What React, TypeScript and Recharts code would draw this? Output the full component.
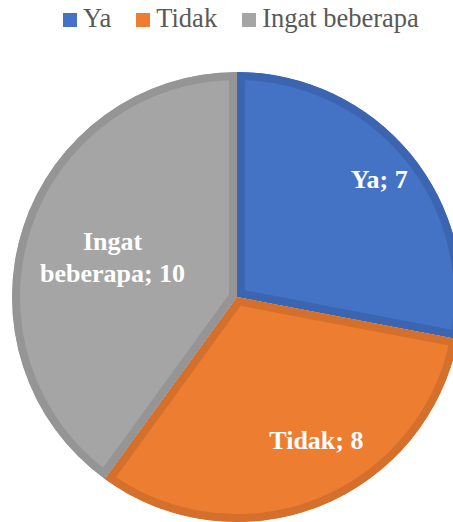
import { PieChart, Pie, Cell, Legend, Sector } from 'recharts'

const categories = ['Ya', 'Tidak', 'Ingat beberapa']
const counts = [7, 8, 10]

const fills = ['#4472C4', '#ED7D31', '#A5A5A5']
const borders = ['#3B65B1', '#D4702C', '#959595']

// where each data label sits: fraction of radius and an angle nudge (deg)
const labelSpots = [
  { r: 0.82, shift: 0 },
  { r: 0.73, shift: 7.3 },
  { r: 0.58, shift: 0.5 },
]

const data = categories.map((name, i) => ({ name, value: counts[i] }))

const RADIAN = Math.PI / 180
const LABEL_SIZE = 26
const SERIF = 'Times New Roman, Liberation Serif, Tinos, DejaVu Serif, serif'

function BorderedSlice(props: any) {
  const { cx, cy, outerRadius, startAngle, endAngle, index } = props
  const id = `slice-clip-${index}`
  const geom = { cx, cy, innerRadius: 0, outerRadius, startAngle, endAngle }
  return (
    <g>
      <defs>
        <clipPath id={id}>
          <Sector {...geom} />
        </clipPath>
      </defs>
      <g clipPath={`url(#${id})`}>
        <Sector
          {...geom}
          fill={fills[index]}
          stroke={borders[index]}
          strokeWidth={16}
          strokeLinejoin="miter"
          strokeMiterlimit={10}
        />
      </g>
    </g>
  )
}

function SliceLabel(props: any) {
  const { cx, cy, midAngle, outerRadius, index, name, value } = props
  const spot = labelSpots[index]
  const a = (midAngle + spot.shift) * RADIAN
  const x = cx + outerRadius * spot.r * Math.cos(-a)
  const y = cy + outerRadius * spot.r * Math.sin(-a)
  const words = String(name).split(' ')
  const lines = words.length > 1 ? [words[0], `${words.slice(1).join(' ')}; ${value}`] : [`${name}; ${value}`]
  const lineGap = 32
  const first = y + 0.33 * LABEL_SIZE - ((lines.length - 1) * lineGap) / 2
  return (
    <text
      x={x}
      y={first}
      textAnchor="middle"
      fill="#FFFFFF"
      style={{ fontFamily: SERIF, fontWeight: 700, fontSize: LABEL_SIZE }}
    >
      {lines.map((l, i) => (
        <tspan key={i} x={x} dy={i === 0 ? 0 : lineGap}>
          {l}
        </tspan>
      ))}
    </text>
  )
}

function LegendRow() {
  return (
    <div
      style={{
        display: 'flex',
        paddingLeft: 63,
        paddingTop: 5,
        fontFamily: SERIF,
        fontSize: 26.5,
        lineHeight: '26px',
        color: '#595959',
      }}
    >
      {categories.map((c, i) => (
        <div key={c} style={{ display: 'flex', alignItems: 'flex-start', marginRight: 25 }}>
          <span style={{ width: 14, height: 14, marginTop: 8, marginRight: 6, background: fills[i] }} />
          <span>{c}</span>
        </div>
      ))}
    </div>
  )
}

export default function App() {
  return (
    <div style={{ position: 'absolute', left: 0, top: 0 }}>
      <PieChart width={453} height={522} margin={{ top: 0, right: 0, bottom: 0, left: 0 }}>
        <Legend
          verticalAlign="bottom"
          content={<LegendRow />}
          wrapperStyle={{ top: 0, bottom: 'auto', left: 0, width: 453 }}
        />
        <Pie
          data={data}
          dataKey="value"
          nameKey="name"
          cx={237}
          cy={297}
          outerRadius={225}
          startAngle={90}
          endAngle={-270}
          stroke="none"
          shape={BorderedSlice}
          label={SliceLabel}
          labelLine={false}
          isAnimationActive={false}
        >
          {data.map((d, i) => (
            <Cell key={d.name} fill={fills[i]} />
          ))}
        </Pie>
      </PieChart>
    </div>
  )
}
